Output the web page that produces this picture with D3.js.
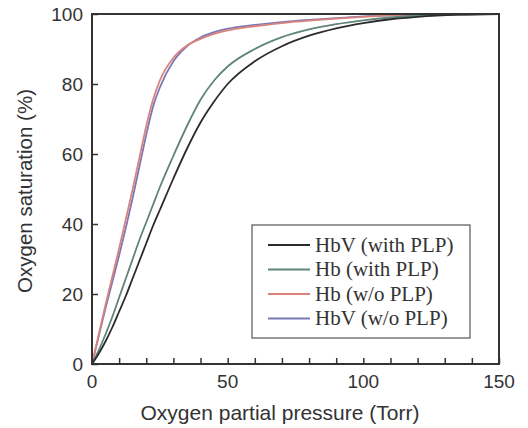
<!DOCTYPE html>
<html>
<head>
<meta charset="utf-8">
<script src="https://cdn.jsdelivr.net/npm/d3@7"></script>
<style>
  html, body { margin: 0; padding: 0; background: #fff; }
  svg { display: block; }
</style>
</head>
<body>
<svg id="chart" width="528" height="428"></svg>
<script>
// Oxygen partial pressure (Torr) at which each saturation was sampled
const pressure = [0, 2.5, 5, 7.5, 10, 12.5, 15, 17.5, 20, 22.5, 25, 30, 35, 40, 45, 50, 60, 70, 80, 90, 100, 110, 120, 135, 150];

// Oxygen saturation (%) for each sample
const hbvWithPLP = [0, 3, 6.5, 10.5, 15, 19.5, 24.5, 29.5, 34.5, 39.5, 44, 53, 61.5, 69, 75, 80, 86.5, 90.8, 93.8, 95.9, 97.4, 98.5, 99.2, 99.8, 100];
const hbWithPLP  = [0, 4, 8.5, 13.5, 19, 24.5, 30, 35.5, 40.5, 45.5, 50.5, 59.5, 68, 75.5, 81, 85, 90, 93.4, 95.6, 97.1, 98.2, 99, 99.5, 99.8, 100];
const hbNoPLP    = [0, 8.5, 17, 25, 33, 41.5, 50, 59, 68, 75.5, 81, 87.5, 91, 92.9, 94.3, 95.3, 96.5, 97.4, 98.1, 98.7, 99.2, 99.6, 99.8, 99.9, 100];
const hbvNoPLP   = [0, 8, 16, 23.5, 31, 39, 47.5, 56.5, 65.5, 73.5, 79, 86.5, 90.8, 93.3, 94.8, 95.8, 96.9, 97.7, 98.3, 98.8, 99.3, 99.6, 99.8, 99.9, 100];

const seriesNames  = ["HbV (with PLP)", "Hb (with PLP)", "Hb (w/o PLP)", "HbV (w/o PLP)"];
const seriesValues = [hbvWithPLP, hbWithPLP, hbNoPLP, hbvNoPLP];
const seriesColors = ["#2b2b2b", "#5e8578", "#d9837c", "#7b78b5"];

const xTicks = [0, 50, 100, 150];
const xMinorTicks = d3.range(0, 151, 10);
const yTicks = [0, 20, 40, 60, 80, 100];

const svg = d3.select("#chart");
const margin = { left: 92, right: 29, top: 14, bottom: 64 };
const W = 528, H = 428;

const x = d3.scaleLinear().domain([0, 150]).range([margin.left, W - margin.right]);
const y = d3.scaleLinear().domain([0, 100]).range([H - margin.bottom, margin.top]);

const axisColor = "#333";
const sans = "'Liberation Sans', Arial, sans-serif";
const serif = "'Liberation Serif', 'Times New Roman', serif";

// Curves
const line = d3.line()
  .x(d => x(d[0]))
  .y(d => y(d[1]))
  .curve(d3.curveMonotoneX);

// draw in reverse so the black curve sits on top
seriesValues.map((vals, i) => ({ vals, i })).reverse().forEach(({ vals, i }) => {
  svg.append("path")
    .datum(pressure.map((p, k) => [p, vals[k]]))
    .attr("fill", "none")
    .attr("stroke", seriesColors[i])
    .attr("stroke-width", 1.8)
    .attr("d", line);
});

// Bottom axis with inward ticks every 10 Torr
const xAxis = svg.append("g")
  .attr("transform", `translate(0,${y(0)})`)
  .call(d3.axisBottom(x).tickValues(xMinorTicks).tickSizeInner(-6).tickSizeOuter(0).tickFormat(""));
xAxis.select(".domain").remove();
xAxis.selectAll("line").attr("stroke", axisColor).attr("stroke-width", 1.5);

svg.append("g").selectAll("text")
  .data(xTicks)
  .join("text")
  .attr("x", d => x(d))
  .attr("y", y(0) + 24)
  .attr("text-anchor", "middle")
  .attr("font-family", sans)
  .attr("font-size", 19)
  .attr("fill", "#333")
  .text(d => d);

// Left axis with inward ticks
const yAxis = svg.append("g")
  .attr("transform", `translate(${x(0)},0)`)
  .call(d3.axisLeft(y).tickValues(yTicks).tickSizeInner(-6).tickSizeOuter(0).tickFormat(""));
yAxis.select(".domain").remove();
yAxis.selectAll("line").attr("stroke", axisColor).attr("stroke-width", 1.5);

svg.append("g").selectAll("text")
  .data(yTicks)
  .join("text")
  .attr("x", x(0) - 9)
  .attr("y", d => y(d))
  .attr("dy", "0.35em")
  .attr("text-anchor", "end")
  .attr("font-family", sans)
  .attr("font-size", 19)
  .attr("fill", "#333")
  .text(d => d);

// Plot frame
svg.append("rect")
  .attr("x", x(0)).attr("y", y(100))
  .attr("width", x(150) - x(0)).attr("height", y(0) - y(100))
  .attr("fill", "none")
  .attr("stroke", axisColor)
  .attr("stroke-width", 2);

// Axis titles
svg.append("text")
  .attr("x", 280).attr("y", 420)
  .attr("text-anchor", "middle")
  .attr("font-family", sans)
  .attr("font-size", 21)
  .attr("fill", "#333")
  .text("Oxygen partial pressure (Torr)");

svg.append("text")
  .attr("transform", "translate(32,191) rotate(-90)")
  .attr("text-anchor", "middle")
  .attr("font-family", sans)
  .attr("font-size", 20.5)
  .attr("fill", "#333")
  .text("Oxygen saturation (%)");

// Legend
const legend = svg.append("g").attr("transform", "translate(252,225)");
legend.append("rect")
  .attr("width", 218).attr("height", 113)
  .attr("fill", "#fff")
  .attr("stroke", "#555")
  .attr("stroke-width", 1.2);

seriesNames.forEach((name, i) => {
  const row = legend.append("g").attr("transform", `translate(0,${20 + i * 24.5})`);
  row.append("line")
    .attr("x1", 16).attr("x2", 58)
    .attr("stroke", seriesColors[i])
    .attr("stroke-width", 2);
  row.append("text")
    .attr("x", 63).attr("dy", "0.33em")
    .attr("font-family", serif)
    .attr("font-size", 21)
    .attr("fill", "#333")
    .text(name);
});
</script>
</body>
</html>
